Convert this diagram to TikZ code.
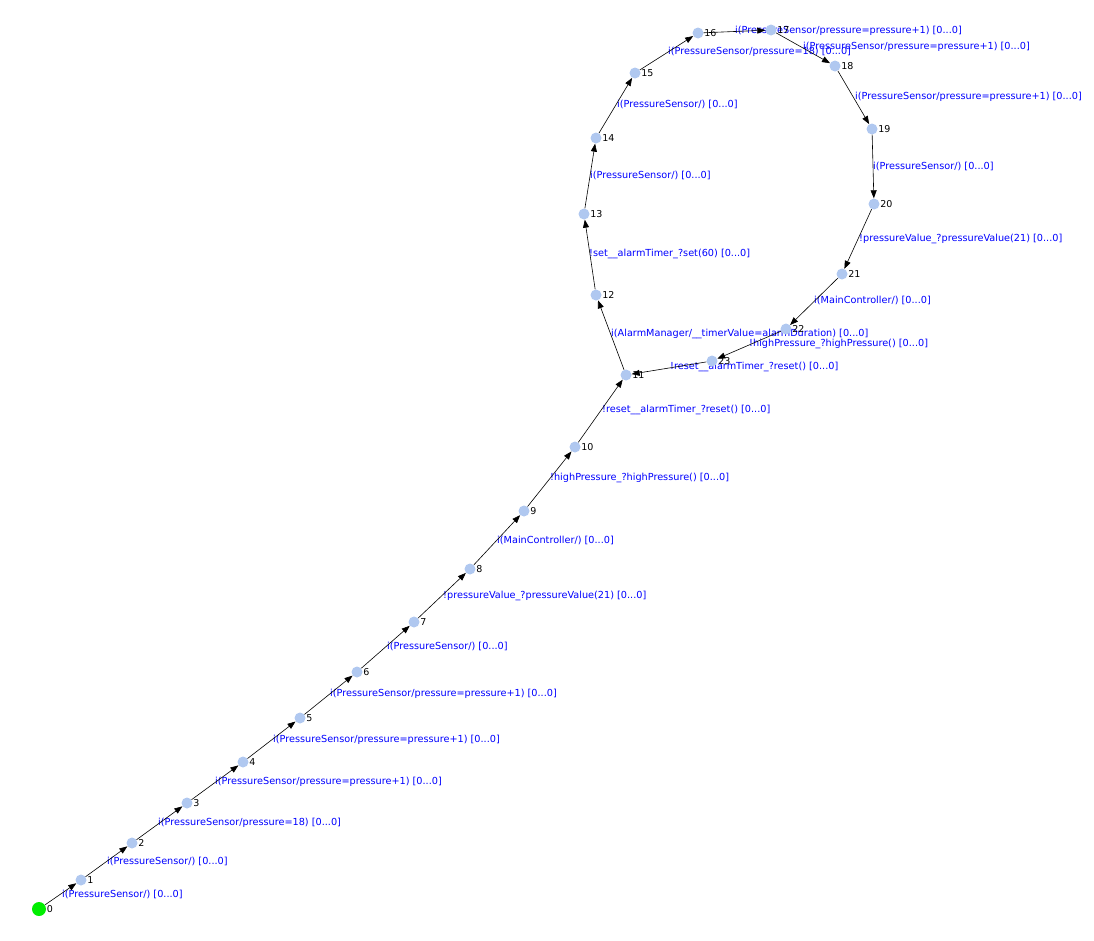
\documentclass[tikz,border=0pt]{standalone}
\usepackage{fontspec}
\setmainfont{DejaVu Sans}
\usetikzlibrary{arrows.meta}
\definecolor{statefill}{RGB}{176,200,240}
\definecolor{initfill}{RGB}{0,238,0}
\definecolor{actblue}{RGB}{0,0,255}
\begin{document}
\begin{tikzpicture}[x=1pt, y=-1pt,
    state/.style={circle, fill=statefill, minimum size=11pt, inner sep=0pt},
    init/.style={state, fill=initfill, minimum size=14pt},
    num/.style={font=\fontsize{9.5}{11}\selectfont, inner sep=0.5pt},
    act/.style={anchor=west, text=actblue, font=\fontsize{9.7}{11}\selectfont, inner sep=0pt},
    trans/.style={-{Triangle[length=8pt, width=6pt]}, line width=0.6pt}]
    \useasboundingbox (0,0) rectangle (1094,940);
    % actions
    \node[act] (a01) at (62,894) {i(PressureSensor/) [0...0]};
    \node[act] (a12) at (107,861) {i(PressureSensor/) [0...0]};
    \node[act] (a23) at (158,823) {i(PressureSensor/pressure=18) [0...0]};
    \node[act] (a34) at (215,782) {i(PressureSensor/pressure=pressure+1) [0...0]};
    \node[act] (a45) at (273,740) {i(PressureSensor/pressure=pressure+1) [0...0]};
    \node[act] (a56) at (330,694) {i(PressureSensor/pressure=pressure+1) [0...0]};
    \node[act] (a67) at (387,646) {i(PressureSensor/) [0...0]};
    \node[act] (a78) at (443,596) {!pressureValue\_?pressureValue(21) [0...0]};
    \node[act] (a89) at (497,540) {i(MainController/) [0...0]};
    \node[act] (a910) at (550,478) {!highPressure\_?highPressure() [0...0]};
    \node[act] (a1011) at (602,410) {!reset\_\_alarmTimer\_?reset() [0...0]};
    \node[act] (a1112) at (611,334) {i(AlarmManager/\_\_timerValue=alarmDuration) [0...0]};
    \node[act] (a1213) at (589,254) {!set\_\_alarmTimer\_?set(60) [0...0]};
    \node[act] (a1314) at (590,175) {i(PressureSensor/) [0...0]};
    \node[act] (a1415) at (617,104) {i(PressureSensor/) [0...0]};
    \node[act] (a1516) at (668,52) {i(PressureSensor/pressure=18) [0...0]};
    \node[act] (a1617) at (735,31) {i(PressureSensor/pressure=pressure+1) [0...0]};
    \node[act] (a1718) at (803,47) {i(PressureSensor/pressure=pressure+1) [0...0]};
    \node[act] (a1819) at (855,97) {i(PressureSensor/pressure=pressure+1) [0...0]};
    \node[act] (a1920) at (873,166) {i(PressureSensor/) [0...0]};
    \node[act] (a2021) at (859,239) {!pressureValue\_?pressureValue(21) [0...0]};
    \node[act] (a2122) at (814,300) {i(MainController/) [0...0]};
    \node[act] (a2223) at (749,344) {!highPressure\_?highPressure() [0...0]};
    \node[act] (a2311) at (670,367) {!reset\_\_alarmTimer\_?reset() [0...0]};
    % states
    \node[init, label={[num]right:0}] (s0) at (39,909) {};
    \foreach \n/\x/\y in {1/81/880, 2/132/843, 3/187/803, 4/243/762, 5/300/718,
        6/357/672, 7/414/622, 8/470/569, 9/524/511, 10/575/447, 11/626/375,
        12/596/295, 13/584/214, 14/596/138, 15/635/73, 16/698/33, 17/771/30,
        18/835/66, 19/872/129, 20/874/204, 21/842/274, 22/786/329, 23/712/361}
      \node[state, label={[num]right:\n}] (s\n) at (\x,\y) {};
    % transitions
    \foreach \a/\b in {0/1, 1/2, 2/3, 3/4, 4/5, 5/6, 6/7, 7/8, 8/9, 9/10, 10/11,
        11/12, 12/13, 13/14, 14/15, 15/16, 16/17, 17/18, 18/19, 19/20, 20/21,
        21/22, 22/23, 23/11}
      \draw[trans] (s\a) -- (s\b);
\end{tikzpicture}
\end{document}
